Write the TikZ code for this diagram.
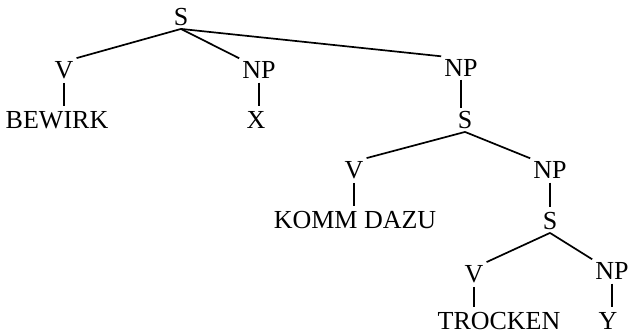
\documentclass[tikz,border=0pt]{standalone}
\usepackage{fontspec}
\setmainfont{Liberation Serif}
\begin{document}
\begin{tikzpicture}[x=1pt,y=-1pt,
  lbl/.style={inner sep=3pt,font=\fontsize{26}{30}\selectfont},
  edge/.style={line width=1.7pt},
  vbar/.style={line width=1.5pt}]
\useasboundingbox (0,0) rectangle (630,334);
% nodes
\node[lbl] (s1) at (181,17) {S};
\node[lbl] (v1) at (64,70) {V};
\node[lbl] (np1) at (259,70) {NP};
\node[lbl] (np2) at (461,68) {NP};
\node[lbl] (w1) at (57,120) {BEWIRK};
\node[lbl] (x) at (256,120) {X};
\node[lbl] (s2) at (465,120) {S};
\node[lbl] (v2) at (354,170) {V};
\node[lbl] (np3) at (550,170) {NP};
\node[lbl] (w2) at (355,220) {KOMM DAZU};
\node[lbl] (s3) at (550,221) {S};
\node[lbl] (v3) at (474,274) {V};
\node[lbl] (np4) at (612,271) {NP};
\node[lbl] (w3) at (499,321) {TROCKEN};
\node[lbl] (y) at (608,321) {Y};
% edges
\draw[edge] (s1.south) -- (v1.north east);
\draw[edge] (s1.south) -- (np1.north west);
\draw[edge] (s1.south) -- (np2.north west);
\draw[vbar] ([yshift=-1pt]v1.south) -- ([yshift=2pt]w1.north -| v1.south);
\draw[vbar] ([yshift=-1pt]np1.south) -- ([yshift=2pt]x.north -| np1.south);
\draw[vbar] (np2.south) -- (s2.north -| np2.south);
\draw[edge] (s2.south) -- (v2.north east);
\draw[edge] (s2.south) -- (np3.north west);
\draw[vbar] ([yshift=-1pt]v2.south) -- ([yshift=2pt]w2.north -| v2.south);
\draw[vbar] ([yshift=-1pt]np3.south) -- ([yshift=2pt]s3.north);
\draw[edge] (s3.south) -- (v3.north east);
\draw[edge] (s3.south) -- (np4.north west);
\draw[vbar] ([yshift=-1pt]v3.south) -- ([yshift=2pt]w3.north -| v3.south);
\draw[vbar] ([yshift=-1pt]np4.south) -- ([yshift=2pt]y.north -| np4.south);
\end{tikzpicture}
\end{document}
